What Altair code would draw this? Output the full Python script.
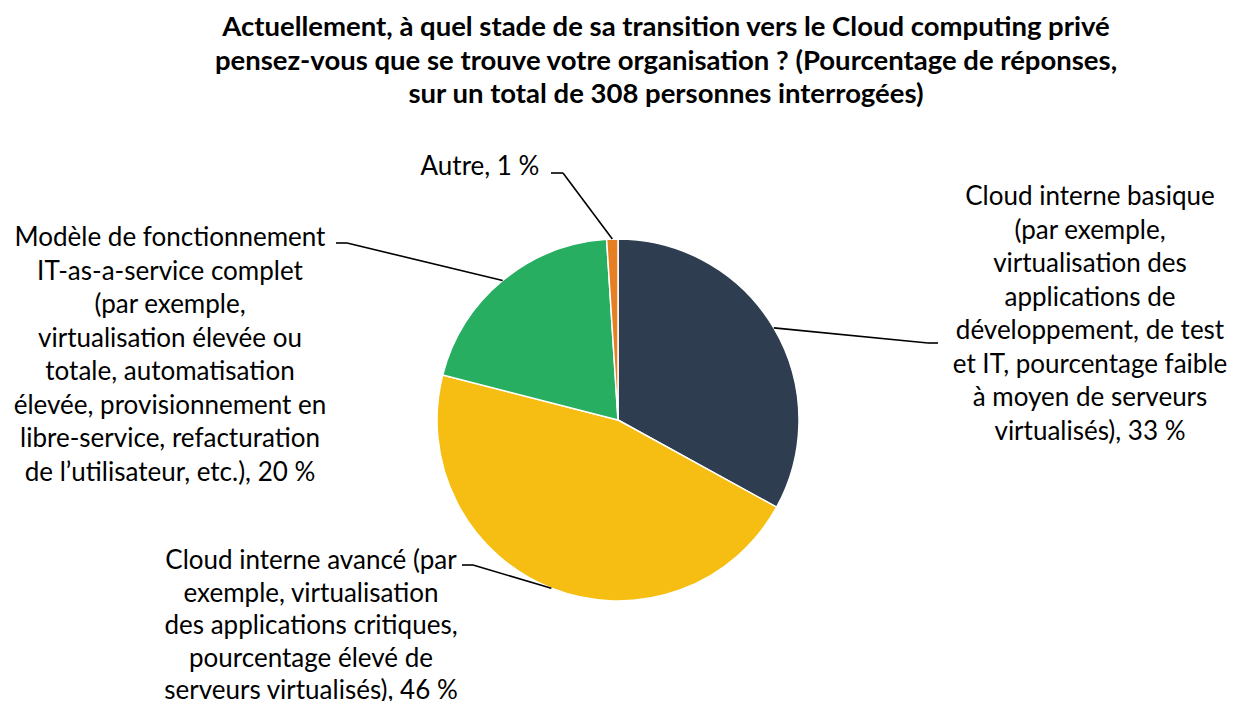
import math
import altair as alt
import pandas as pd

# ---------------- data ----------------
categories = [
    "Cloud interne basique",
    "Cloud interne avancé",
    "Modèle de fonctionnement IT-as-a-service complet",
    "Autre",
]
values = [33, 46, 20, 1]
colors = ["#2E3E50", "#F6BE12", "#27AE60", "#E67E22"]

label_lines = [
    ["Cloud interne basique", "(par exemple,", "virtualisation des", "applications de",
     "développement, de test", "et IT, pourcentage faible", "à moyen de serveurs",
     "virtualisés), 33 %"],
    ["Cloud interne avancé (par", "exemple, virtualisation", "des applications critiques,",
     "pourcentage élevé de", "serveurs virtualisés), 46 %"],
    ["Modèle de fonctionnement", "IT-as-a-service complet", "(par exemple,",
     "virtualisation élevée ou", "totale, automatisation", "élevée, provisionnement en",
     "libre-service, refacturation", "de l\u2019utilisateur, etc.), 20 %"],
    ["Autre, 1 %"],
]

title_lines = [
    "Actuellement, à quel stade de sa transition vers le Cloud computing privé",
    "pensez-vous que se trouve votre organisation ? (Pourcentage de réponses,",
    "sur un total de 308 personnes interrogées)",
]

# ---------------- layout (page pixel coords) ----------------
OFF = 8
W, H = 1219, 693
CX, CY, R = 618, 420, 181
FONT = "Lato"
FS = 26
TFS = 27.5
LH = 33.5
LH_BOTTOM = 32.5

# centre of the first line of each label
label_first = [(1090, 197), (311, 561), (170, 238), (480, 167)]
# elbow point and end point of each leader line
leader_elbow = [(928, 343), (473, 565), (347, 243), (563, 173)]
leader_end = [(938, 343), (462, 565), (336, 243), (551, 173)]

# ---------------- build tables ----------------
pie_df = pd.DataFrame({
    "cat": categories,
    "value": values,
    "order": list(range(len(values))),
})

total = sum(values)
cum = 0
rows_diag, rows_hor, rows_txt = [], [], []
for i, v in enumerate(values):
    mid = (cum + v / 2) / total * 2 * math.pi
    cum += v
    px = CX + R * math.sin(mid)
    py = CY - R * math.cos(mid)
    ex, ey = leader_elbow[i]
    tx, ty = leader_end[i]
    rows_diag.append({"x": px - OFF, "y": py - OFF, "x2": ex - OFF, "y2": ey - OFF})
    rows_hor.append({"x": ex - OFF, "y": ey - OFF, "x2": tx - OFF, "y2": ty - OFF})
    lx, ly = label_first[i]
    rows_txt.append({"x": lx - OFF, "y": ly - OFF, "text": label_lines[i], "idx": i})

lead_df = pd.DataFrame(rows_diag + rows_hor)
txt_df = pd.DataFrame(rows_txt)
title_df = pd.DataFrame([{"x": 666 - OFF, "y": 28 - OFF, "text": title_lines}])

pie = alt.Chart(pie_df).mark_arc(radius=R, stroke="white", strokeWidth=1.5).encode(
    theta=alt.Theta("value:Q", stack=True),
    order=alt.Order("order:Q"),
    color=alt.Color("cat:N", scale=alt.Scale(domain=categories, range=colors), legend=None),
    x=alt.value(CX - OFF),
    y=alt.value(CY - OFF),
)

leaders = alt.Chart(lead_df).mark_rule(color="#000000", strokeWidth=1.6).encode(
    x=alt.X("x:Q", scale=None, axis=None),
    y=alt.Y("y:Q", scale=None, axis=None),
    x2="x2:Q",
    y2="y2:Q",
)

def text_layer(df, lh):
    return alt.Chart(df).mark_text(
        font=FONT, fontSize=FS, lineHeight=lh, align="center", baseline="middle",
        color="#000000"
    ).encode(
        x=alt.X("x:Q", scale=None, axis=None),
        y=alt.Y("y:Q", scale=None, axis=None),
        text="text",
    )

labels_main = text_layer(txt_df[txt_df["idx"] != 1], LH)
labels_bottom = text_layer(txt_df[txt_df["idx"] == 1], LH_BOTTOM)

title = alt.Chart(title_df).mark_text(
    font=FONT, fontSize=TFS, fontWeight="bold", lineHeight=LH, align="center",
    baseline="middle", color="#000000"
).encode(
    x=alt.X("x:Q", scale=None, axis=None),
    y=alt.Y("y:Q", scale=None, axis=None),
    text="text",
)

chart = alt.layer(pie, leaders, labels_main, labels_bottom, title).properties(
    width=W, height=H, padding=0, autosize=alt.AutoSizeParams(type="none"),
    background="white",
).configure_view(strokeWidth=0, stroke="transparent", fill="white")

chart.save("out.html", embed_options={"renderer": "svg", "actions": False})
